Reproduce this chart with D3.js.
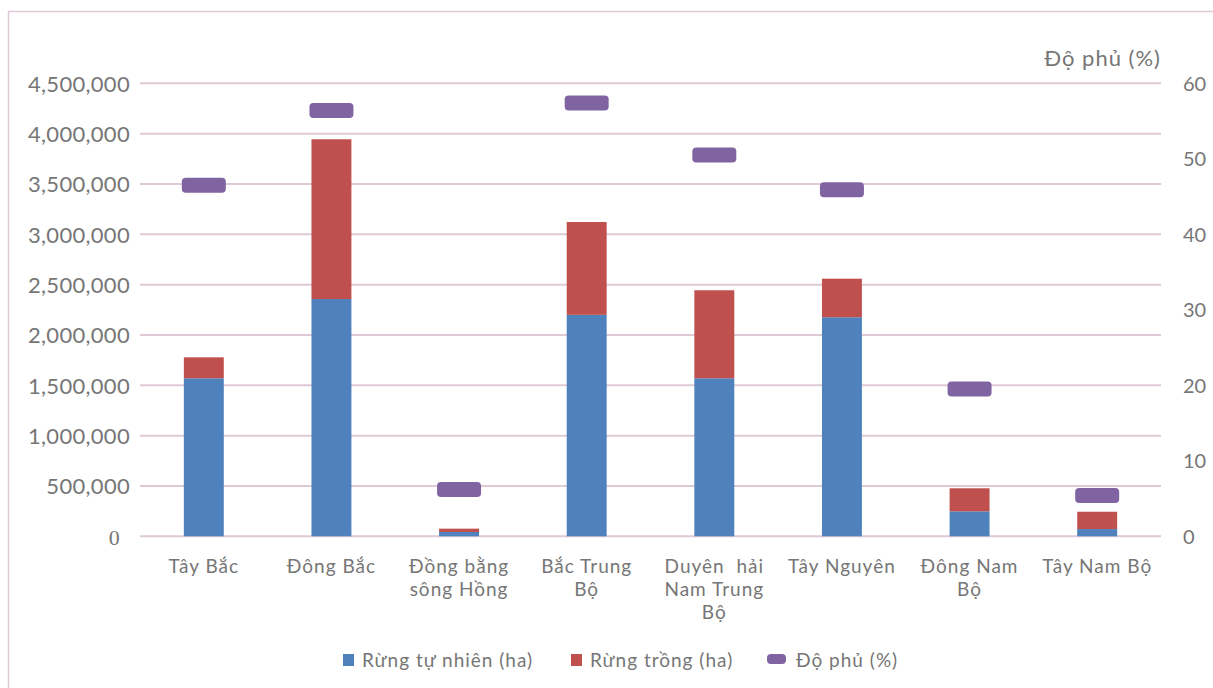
<!DOCTYPE html>
<html><head><meta charset="utf-8">
<script src="https://cdn.jsdelivr.net/npm/d3@7"></script>
<style>
body{margin:0;background:#fff;}
text{font-family:Lato,"Noto Sans",sans-serif;fill:#767676;}
.lbl{letter-spacing:1px;white-space:pre;}
</style></head>
<body><svg id="c" width="1213" height="688"></svg>
<script>
const categories = ["Tây Bắc","Đông Bắc","Đồng bằng sông Hồng","Bắc Trung Bộ","Duyên  hải Nam Trung Bộ","Tây Nguyên","Đông Nam Bộ","Tây Nam Bộ"];
const categoryLines = [["Tây Bắc"],["Đông Bắc"],["Đồng bằng","sông Hồng"],["Bắc Trung","Bộ"],["Duyên  hải","Nam Trung","Bộ"],["Tây Nguyên"],["Đông Nam","Bộ"],["Tây Nam Bộ"]];
const natural = [1570000,2357000,43000,2200000,1570000,2176000,248000,72000];
const planted = [208000,1587000,33000,922000,874000,383000,229000,172000];
const coverage = [46.5,56.4,6.2,57.4,50.5,45.9,19.5,5.4];
const leftTicks = [0,500000,1000000,1500000,2000000,2500000,3000000,3500000,4000000,4500000];
const rightTicks = [0,10,20,30,40,50,60];
const seriesNames = ["Rừng tự nhiên (ha)","Rừng trồng (ha)","Độ phủ (%)"];
const colors = ["#4f81bd","#c0504d","#8064a2"];

const svg = d3.select("#c");
const grid = "#dfc9d6";
const L = 140, R = 1161, T = 83.3, B = 536.3;

svg.append("rect").attr("x",8.5).attr("y",11.5).attr("width",1230).attr("height",700)
  .attr("fill","none").attr("stroke",grid).attr("stroke-width",1.5);

const x = d3.scaleBand().domain(categories).range([L,R]).padding(0);
const y = d3.scaleLinear().domain([0,4500000]).range([B,T]);
const y2 = d3.scaleLinear().domain([0,60]).range([B,T]);
const bw = x.bandwidth()*0.313;

// gridlines
svg.append("g").selectAll("line").data(leftTicks).join("line")
  .attr("x1",L).attr("x2",R).attr("y1",d=>y(d)).attr("y2",d=>y(d))
  .attr("stroke",grid).attr("stroke-width",2);

// left axis
const ax = svg.append("g").attr("transform",`translate(${L-10},0)`)
  .call(d3.axisLeft(y).tickValues(leftTicks).tickSize(0).tickPadding(0).tickFormat(d3.format(",")));
ax.select(".domain").remove();
ax.selectAll("text").style("font-size","22px").style("letter-spacing","0.3px").attr("fill","#767676").attr("dy","0.35em");
ax.selectAll("text").filter(d=>d===0).style("font-family","'Liberation Serif','DejaVu Serif',serif").attr("dx","-10");

// right axis
const ax2 = svg.append("g").attr("transform",`translate(${R+22},0)`)
  .call(d3.axisRight(y2).tickValues(rightTicks).tickSize(0).tickPadding(0));
ax2.select(".domain").remove();
ax2.selectAll("text").style("font-size","20px").attr("fill","#767676").attr("dy","0.35em");

svg.append("text").attr("class","lbl").attr("x",R).attr("y",66).attr("text-anchor","end")
  .style("font-size","22px").text("Độ phủ (%)");

// bars
const stack = categories.map((c,i)=>({c,n:natural[i],p:planted[i]}));
svg.append("g").selectAll("rect").data(stack).join("rect")
  .attr("x",d=>x(d.c)+x.bandwidth()/2-bw/2).attr("width",bw)
  .attr("y",d=>y(d.n)).attr("height",d=>y(0)-y(d.n)).attr("fill",colors[0]);
svg.append("g").selectAll("rect").data(stack).join("rect")
  .attr("x",d=>x(d.c)+x.bandwidth()/2-bw/2).attr("width",bw)
  .attr("y",d=>y(d.n+d.p)).attr("height",d=>y(d.n)-y(d.n+d.p)).attr("fill",colors[1]);

// coverage markers
svg.append("g").selectAll("rect").data(categories).join("rect")
  .attr("x",d=>x(d)+x.bandwidth()/2-22).attr("width",44)
  .attr("y",(d,i)=>y2(coverage[i])-7.5).attr("height",15).attr("rx",4)
  .attr("fill",colors[2]);

// category labels
const cl = svg.append("g");
categories.forEach((c,i)=>{
  const cx = x(c)+x.bandwidth()/2;
  const t = cl.append("text").attr("class","lbl").attr("x",cx).attr("y",573)
    .attr("text-anchor","middle").style("font-size","19px");
  categoryLines[i].forEach((ln,j)=>{
    t.append("tspan").attr("x",cx).attr("dy",j===0?0:23).text(ln);
  });
});

// legend
const lg = svg.append("g");
const lx = [343,571,767];
seriesNames.forEach((s,i)=>{
  if(i<2){
    lg.append("rect").attr("x",lx[i]).attr("y",654).attr("width",11).attr("height",12).attr("fill",colors[i]);
    lg.append("text").attr("class","lbl").attr("x",lx[i]+19).attr("y",667).style("font-size","19px").text(s);
  } else {
    lg.append("rect").attr("x",lx[i]).attr("y",654).attr("width",19).attr("height",10).attr("rx",4).attr("fill",colors[i]);
    lg.append("text").attr("class","lbl").attr("x",lx[i]+29).attr("y",667).style("font-size","19px").text(s);
  }
});
</script></body></html>
